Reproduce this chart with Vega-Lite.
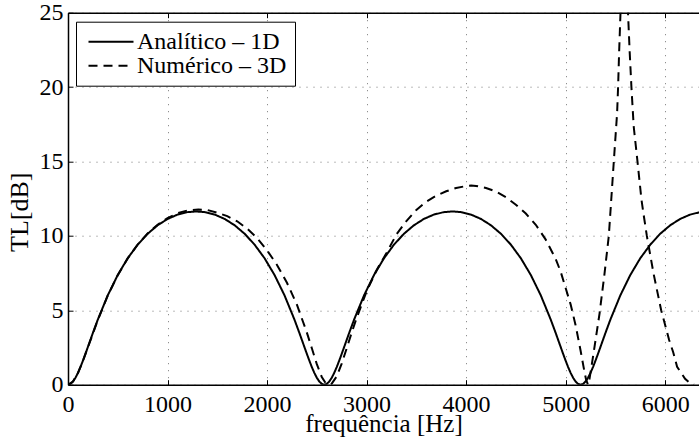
{
  "$schema": "https://vega.github.io/schema/vega-lite/v6.json",
  "width": 631,
  "height": 372,
  "autosize": {"type": "none"},
  "padding": {"left": 68, "top": 12.7, "right": 0, "bottom": 56.3},
  "background": "white",
  "config": {
    "view": {"stroke": null},
    "font": "Liberation Serif",
    "axis": {
      "labelFont": "Liberation Serif",
      "titleFont": "Liberation Serif",
      "labelColor": "black",
      "titleColor": "black",
      "titleFontWeight": "normal",
      "domainColor": "black",
      "domainWidth": 1.5,
      "tickColor": "black",
      "tickWidth": 1,
      "gridColor": "#777777",
      "gridDash": [1, 6],
      "gridWidth": 1,
      "labelFlush": false,
      "labelOverlap": false
    }
  },
  "data": {
    "values": [
      {"f": 0, "v": 0, "s": "Analítico – 1D"},
      {"f": 25, "v": 0.055, "s": "Analítico – 1D"},
      {"f": 50, "v": 0.214, "s": "Analítico – 1D"},
      {"f": 75, "v": 0.467, "s": "Analítico – 1D"},
      {"f": 100, "v": 0.797, "s": "Analítico – 1D"},
      {"f": 125, "v": 1.183, "s": "Analítico – 1D"},
      {"f": 150, "v": 1.615, "s": "Analítico – 1D"},
      {"f": 175, "v": 2.07, "s": "Analítico – 1D"},
      {"f": 200, "v": 2.538, "s": "Analítico – 1D"},
      {"f": 250, "v": 3.477, "s": "Analítico – 1D"},
      {"f": 300, "v": 4.381, "s": "Analítico – 1D"},
      {"f": 400, "v": 6.01, "s": "Analítico – 1D"},
      {"f": 500, "v": 7.375, "s": "Analítico – 1D"},
      {"f": 600, "v": 8.498, "s": "Analítico – 1D"},
      {"f": 700, "v": 9.409, "s": "Analítico – 1D"},
      {"f": 800, "v": 10.142, "s": "Analítico – 1D"},
      {"f": 900, "v": 10.711, "s": "Analítico – 1D"},
      {"f": 1000, "v": 11.137, "s": "Analítico – 1D"},
      {"f": 1100, "v": 11.43, "s": "Analítico – 1D"},
      {"f": 1200, "v": 11.597, "s": "Analítico – 1D"},
      {"f": 1287.5, "v": 11.644, "s": "Analítico – 1D"},
      {"f": 1375, "v": 11.597, "s": "Analítico – 1D"},
      {"f": 1475, "v": 11.43, "s": "Analítico – 1D"},
      {"f": 1575, "v": 11.137, "s": "Analítico – 1D"},
      {"f": 1675, "v": 10.711, "s": "Analítico – 1D"},
      {"f": 1775, "v": 10.142, "s": "Analítico – 1D"},
      {"f": 1875, "v": 9.409, "s": "Analítico – 1D"},
      {"f": 1975, "v": 8.498, "s": "Analítico – 1D"},
      {"f": 2075, "v": 7.375, "s": "Analítico – 1D"},
      {"f": 2175, "v": 6.01, "s": "Analítico – 1D"},
      {"f": 2275, "v": 4.381, "s": "Analítico – 1D"},
      {"f": 2325, "v": 3.477, "s": "Analítico – 1D"},
      {"f": 2375, "v": 2.538, "s": "Analítico – 1D"},
      {"f": 2400, "v": 2.07, "s": "Analítico – 1D"},
      {"f": 2425, "v": 1.615, "s": "Analítico – 1D"},
      {"f": 2450, "v": 1.183, "s": "Analítico – 1D"},
      {"f": 2475, "v": 0.797, "s": "Analítico – 1D"},
      {"f": 2500, "v": 0.467, "s": "Analítico – 1D"},
      {"f": 2525, "v": 0.214, "s": "Analítico – 1D"},
      {"f": 2550, "v": 0.055, "s": "Analítico – 1D"},
      {"f": 2575, "v": 0, "s": "Analítico – 1D"},
      {"f": 2600, "v": 0.055, "s": "Analítico – 1D"},
      {"f": 2625, "v": 0.214, "s": "Analítico – 1D"},
      {"f": 2650, "v": 0.467, "s": "Analítico – 1D"},
      {"f": 2675, "v": 0.797, "s": "Analítico – 1D"},
      {"f": 2700, "v": 1.183, "s": "Analítico – 1D"},
      {"f": 2725, "v": 1.615, "s": "Analítico – 1D"},
      {"f": 2750, "v": 2.07, "s": "Analítico – 1D"},
      {"f": 2775, "v": 2.538, "s": "Analítico – 1D"},
      {"f": 2825, "v": 3.477, "s": "Analítico – 1D"},
      {"f": 2875, "v": 4.381, "s": "Analítico – 1D"},
      {"f": 2975, "v": 6.01, "s": "Analítico – 1D"},
      {"f": 3075, "v": 7.375, "s": "Analítico – 1D"},
      {"f": 3175, "v": 8.498, "s": "Analítico – 1D"},
      {"f": 3275, "v": 9.409, "s": "Analítico – 1D"},
      {"f": 3375, "v": 10.142, "s": "Analítico – 1D"},
      {"f": 3475, "v": 10.711, "s": "Analítico – 1D"},
      {"f": 3575, "v": 11.137, "s": "Analítico – 1D"},
      {"f": 3675, "v": 11.43, "s": "Analítico – 1D"},
      {"f": 3775, "v": 11.597, "s": "Analítico – 1D"},
      {"f": 3862.5, "v": 11.644, "s": "Analítico – 1D"},
      {"f": 3950, "v": 11.597, "s": "Analítico – 1D"},
      {"f": 4050, "v": 11.43, "s": "Analítico – 1D"},
      {"f": 4150, "v": 11.137, "s": "Analítico – 1D"},
      {"f": 4250, "v": 10.711, "s": "Analítico – 1D"},
      {"f": 4350, "v": 10.142, "s": "Analítico – 1D"},
      {"f": 4450, "v": 9.409, "s": "Analítico – 1D"},
      {"f": 4550, "v": 8.498, "s": "Analítico – 1D"},
      {"f": 4650, "v": 7.375, "s": "Analítico – 1D"},
      {"f": 4750, "v": 6.01, "s": "Analítico – 1D"},
      {"f": 4850, "v": 4.381, "s": "Analítico – 1D"},
      {"f": 4900, "v": 3.477, "s": "Analítico – 1D"},
      {"f": 4950, "v": 2.538, "s": "Analítico – 1D"},
      {"f": 4975, "v": 2.07, "s": "Analítico – 1D"},
      {"f": 5000, "v": 1.615, "s": "Analítico – 1D"},
      {"f": 5025, "v": 1.183, "s": "Analítico – 1D"},
      {"f": 5050, "v": 0.797, "s": "Analítico – 1D"},
      {"f": 5075, "v": 0.467, "s": "Analítico – 1D"},
      {"f": 5100, "v": 0.214, "s": "Analítico – 1D"},
      {"f": 5125, "v": 0.055, "s": "Analítico – 1D"},
      {"f": 5150, "v": 0, "s": "Analítico – 1D"},
      {"f": 5175, "v": 0.055, "s": "Analítico – 1D"},
      {"f": 5200, "v": 0.214, "s": "Analítico – 1D"},
      {"f": 5225, "v": 0.467, "s": "Analítico – 1D"},
      {"f": 5250, "v": 0.797, "s": "Analítico – 1D"},
      {"f": 5275, "v": 1.183, "s": "Analítico – 1D"},
      {"f": 5300, "v": 1.615, "s": "Analítico – 1D"},
      {"f": 5325, "v": 2.07, "s": "Analítico – 1D"},
      {"f": 5350, "v": 2.538, "s": "Analítico – 1D"},
      {"f": 5400, "v": 3.477, "s": "Analítico – 1D"},
      {"f": 5450, "v": 4.381, "s": "Analítico – 1D"},
      {"f": 5550, "v": 6.01, "s": "Analítico – 1D"},
      {"f": 5650, "v": 7.375, "s": "Analítico – 1D"},
      {"f": 5750, "v": 8.498, "s": "Analítico – 1D"},
      {"f": 5850, "v": 9.409, "s": "Analítico – 1D"},
      {"f": 5950, "v": 10.142, "s": "Analítico – 1D"},
      {"f": 6050, "v": 10.711, "s": "Analítico – 1D"},
      {"f": 6150, "v": 11.137, "s": "Analítico – 1D"},
      {"f": 6250, "v": 11.43, "s": "Analítico – 1D"},
      {"f": 6350, "v": 11.597, "s": "Analítico – 1D"},
      {"f": 0, "v": 0, "s": "Numérico – 3D"},
      {"f": 50, "v": 0.21, "s": "Numérico – 3D"},
      {"f": 100, "v": 0.78, "s": "Numérico – 3D"},
      {"f": 150, "v": 1.6, "s": "Numérico – 3D"},
      {"f": 200, "v": 2.51, "s": "Numérico – 3D"},
      {"f": 300, "v": 4.35, "s": "Numérico – 3D"},
      {"f": 400, "v": 6.0, "s": "Numérico – 3D"},
      {"f": 500, "v": 7.36, "s": "Numérico – 3D"},
      {"f": 600, "v": 8.49, "s": "Numérico – 3D"},
      {"f": 700, "v": 9.42, "s": "Numérico – 3D"},
      {"f": 800, "v": 10.16, "s": "Numérico – 3D"},
      {"f": 900, "v": 10.75, "s": "Numérico – 3D"},
      {"f": 1000, "v": 11.2, "s": "Numérico – 3D"},
      {"f": 1100, "v": 11.52, "s": "Numérico – 3D"},
      {"f": 1200, "v": 11.71, "s": "Numérico – 3D"},
      {"f": 1310, "v": 11.78, "s": "Numérico – 3D"},
      {"f": 1400, "v": 11.74, "s": "Numérico – 3D"},
      {"f": 1500, "v": 11.56, "s": "Numérico – 3D"},
      {"f": 1600, "v": 11.33, "s": "Numérico – 3D"},
      {"f": 1700, "v": 10.98, "s": "Numérico – 3D"},
      {"f": 1800, "v": 10.49, "s": "Numérico – 3D"},
      {"f": 1900, "v": 9.85, "s": "Numérico – 3D"},
      {"f": 2000, "v": 9.03, "s": "Numérico – 3D"},
      {"f": 2100, "v": 8.05, "s": "Numérico – 3D"},
      {"f": 2200, "v": 6.85, "s": "Numérico – 3D"},
      {"f": 2300, "v": 5.38, "s": "Numérico – 3D"},
      {"f": 2400, "v": 3.5, "s": "Numérico – 3D"},
      {"f": 2450, "v": 2.45, "s": "Numérico – 3D"},
      {"f": 2500, "v": 1.38, "s": "Numérico – 3D"},
      {"f": 2550, "v": 0.52, "s": "Numérico – 3D"},
      {"f": 2590, "v": 0.09, "s": "Numérico – 3D"},
      {"f": 2622, "v": 0, "s": "Numérico – 3D"},
      {"f": 2650, "v": 0.07, "s": "Numérico – 3D"},
      {"f": 2700, "v": 0.56, "s": "Numérico – 3D"},
      {"f": 2750, "v": 1.42, "s": "Numérico – 3D"},
      {"f": 2800, "v": 2.44, "s": "Numérico – 3D"},
      {"f": 2850, "v": 3.49, "s": "Numérico – 3D"},
      {"f": 2900, "v": 4.48, "s": "Numérico – 3D"},
      {"f": 3000, "v": 6.27, "s": "Numérico – 3D"},
      {"f": 3100, "v": 7.69, "s": "Numérico – 3D"},
      {"f": 3200, "v": 8.85, "s": "Numérico – 3D"},
      {"f": 3300, "v": 10.1, "s": "Numérico – 3D"},
      {"f": 3400, "v": 11.0, "s": "Numérico – 3D"},
      {"f": 3500, "v": 11.75, "s": "Numérico – 3D"},
      {"f": 3600, "v": 12.3, "s": "Numérico – 3D"},
      {"f": 3700, "v": 12.7, "s": "Numérico – 3D"},
      {"f": 3800, "v": 13.0, "s": "Numérico – 3D"},
      {"f": 3900, "v": 13.22, "s": "Numérico – 3D"},
      {"f": 4000, "v": 13.35, "s": "Numérico – 3D"},
      {"f": 4050, "v": 13.38, "s": "Numérico – 3D"},
      {"f": 4100, "v": 13.36, "s": "Numérico – 3D"},
      {"f": 4200, "v": 13.22, "s": "Numérico – 3D"},
      {"f": 4300, "v": 12.98, "s": "Numérico – 3D"},
      {"f": 4400, "v": 12.6, "s": "Numérico – 3D"},
      {"f": 4500, "v": 12.1, "s": "Numérico – 3D"},
      {"f": 4600, "v": 11.5, "s": "Numérico – 3D"},
      {"f": 4700, "v": 10.75, "s": "Numérico – 3D"},
      {"f": 4800, "v": 9.75, "s": "Numérico – 3D"},
      {"f": 4900, "v": 8.45, "s": "Numérico – 3D"},
      {"f": 4950, "v": 7.6, "s": "Numérico – 3D"},
      {"f": 5000, "v": 6.5, "s": "Numérico – 3D"},
      {"f": 5050, "v": 5.4, "s": "Numérico – 3D"},
      {"f": 5100, "v": 4.0, "s": "Numérico – 3D"},
      {"f": 5150, "v": 2.3, "s": "Numérico – 3D"},
      {"f": 5180, "v": 1.2, "s": "Numérico – 3D"},
      {"f": 5205, "v": 0.35, "s": "Numérico – 3D"},
      {"f": 5225, "v": 0, "s": "Numérico – 3D"},
      {"f": 5240, "v": 0.4, "s": "Numérico – 3D"},
      {"f": 5265, "v": 1.45, "s": "Numérico – 3D"},
      {"f": 5291, "v": 2.57, "s": "Numérico – 3D"},
      {"f": 5341, "v": 4.8, "s": "Numérico – 3D"},
      {"f": 5391, "v": 7.48, "s": "Numérico – 3D"},
      {"f": 5434, "v": 10.02, "s": "Numérico – 3D"},
      {"f": 5458, "v": 12.4, "s": "Numérico – 3D"},
      {"f": 5484, "v": 15.0, "s": "Numérico – 3D"},
      {"f": 5517, "v": 18.23, "s": "Numérico – 3D"},
      {"f": 5527, "v": 20.0, "s": "Numérico – 3D"},
      {"f": 5537, "v": 22.26, "s": "Numérico – 3D"},
      {"f": 5551, "v": 24.95, "s": "Numérico – 3D"},
      {"f": 5570, "v": 30, "s": "Numérico – 3D"},
      {"f": 5590, "v": 34, "s": "Numérico – 3D"},
      {"f": 5610, "v": 30, "s": "Numérico – 3D"},
      {"f": 5627, "v": 24.95, "s": "Numérico – 3D"},
      {"f": 5644, "v": 22.3, "s": "Numérico – 3D"},
      {"f": 5661, "v": 20.0, "s": "Numérico – 3D"},
      {"f": 5684, "v": 17.35, "s": "Numérico – 3D"},
      {"f": 5722, "v": 15.0, "s": "Numérico – 3D"},
      {"f": 5762, "v": 12.43, "s": "Numérico – 3D"},
      {"f": 5782, "v": 11.5, "s": "Numérico – 3D"},
      {"f": 5816, "v": 10.0, "s": "Numérico – 3D"},
      {"f": 5883, "v": 7.48, "s": "Numérico – 3D"},
      {"f": 5960, "v": 5.0, "s": "Numérico – 3D"},
      {"f": 6040, "v": 3.0, "s": "Numérico – 3D"},
      {"f": 6080, "v": 2.2, "s": "Numérico – 3D"},
      {"f": 6120, "v": 1.2, "s": "Numérico – 3D"},
      {"f": 6200, "v": 0.4, "s": "Numérico – 3D"},
      {"f": 6250, "v": 0.1, "s": "Numérico – 3D"},
      {"f": 6290, "v": 0, "s": "Numérico – 3D"}
    ]
  },
  "layer": [
    {
      "mark": {"type": "line", "color": "black", "strokeWidth": 2, "clip": true},
      "encoding": {
        "x": {
          "field": "f",
          "type": "quantitative",
          "scale": {"domain": [0, 6340], "nice": false, "zero": false},
          "axis": {
            "orient": "bottom",
            "values": [0, 1000, 2000, 3000, 4000, 5000, 6000],
            "format": "d",
            "labelFontSize": 24,
            "labelBaseline": "alphabetic",
            "tickSize": -5,
            "labelPadding": 31.5,
            "grid": true,
            "title": "frequência [Hz]",
            "titleFontSize": 25,
            "titleBaseline": "alphabetic",
            "titleY": 47
          }
        },
        "y": {
          "field": "v",
          "type": "quantitative",
          "scale": {"domain": [0, 25], "nice": false, "zero": false},
          "axis": {
            "values": [0, 5, 10, 15, 20, 25],
            "labelFontSize": 24,
            "labelBaseline": "middle",
            "tickSize": -5,
            "labelPadding": 10,
            "grid": true,
            "title": "TL[dB]",
            "titleFontSize": 26,
            "titleBaseline": "alphabetic",
            "titleX": -41,
            "titleY": 199
          }
        },
        "strokeDash": {
          "field": "s",
          "type": "nominal",
          "scale": {"domain": ["Analítico – 1D", "Numérico – 3D"], "range": [[1, 0], [9, 6]]},
          "legend": {
            "orient": "none",
            "legendX": 8,
            "legendY": 9,
            "title": null,
            "symbolType": "M-1,0H5",
            "symbolSize": 225,
            "symbolOffset": 0,
            "symbolStrokeWidth": 2,
            "symbolStrokeColor": "black",
            "labelOffset": 29,
            "labelFontSize": 24,
            "labelFont": "Liberation Serif",
            "labelColor": "black",
            "labelLimit": 0,
            "padding": 8,
            "rowPadding": 0,
            "strokeColor": "black",
            "fillColor": "white"
          }
        }
      }
    },
    {
      "mark": {"type": "rule", "strokeOpacity": 0},
      "encoding": {
        "x": {
          "field": "f",
          "type": "quantitative",
          "axis": {
            "orient": "top",
            "values": [0, 1000, 2000, 3000, 4000, 5000, 6000],
            "labels": false,
            "tickSize": -5,
            "grid": false,
            "title": null
          }
        }
      }
    }
  ],
  "resolve": {"axis": {"x": "independent"}}
}
